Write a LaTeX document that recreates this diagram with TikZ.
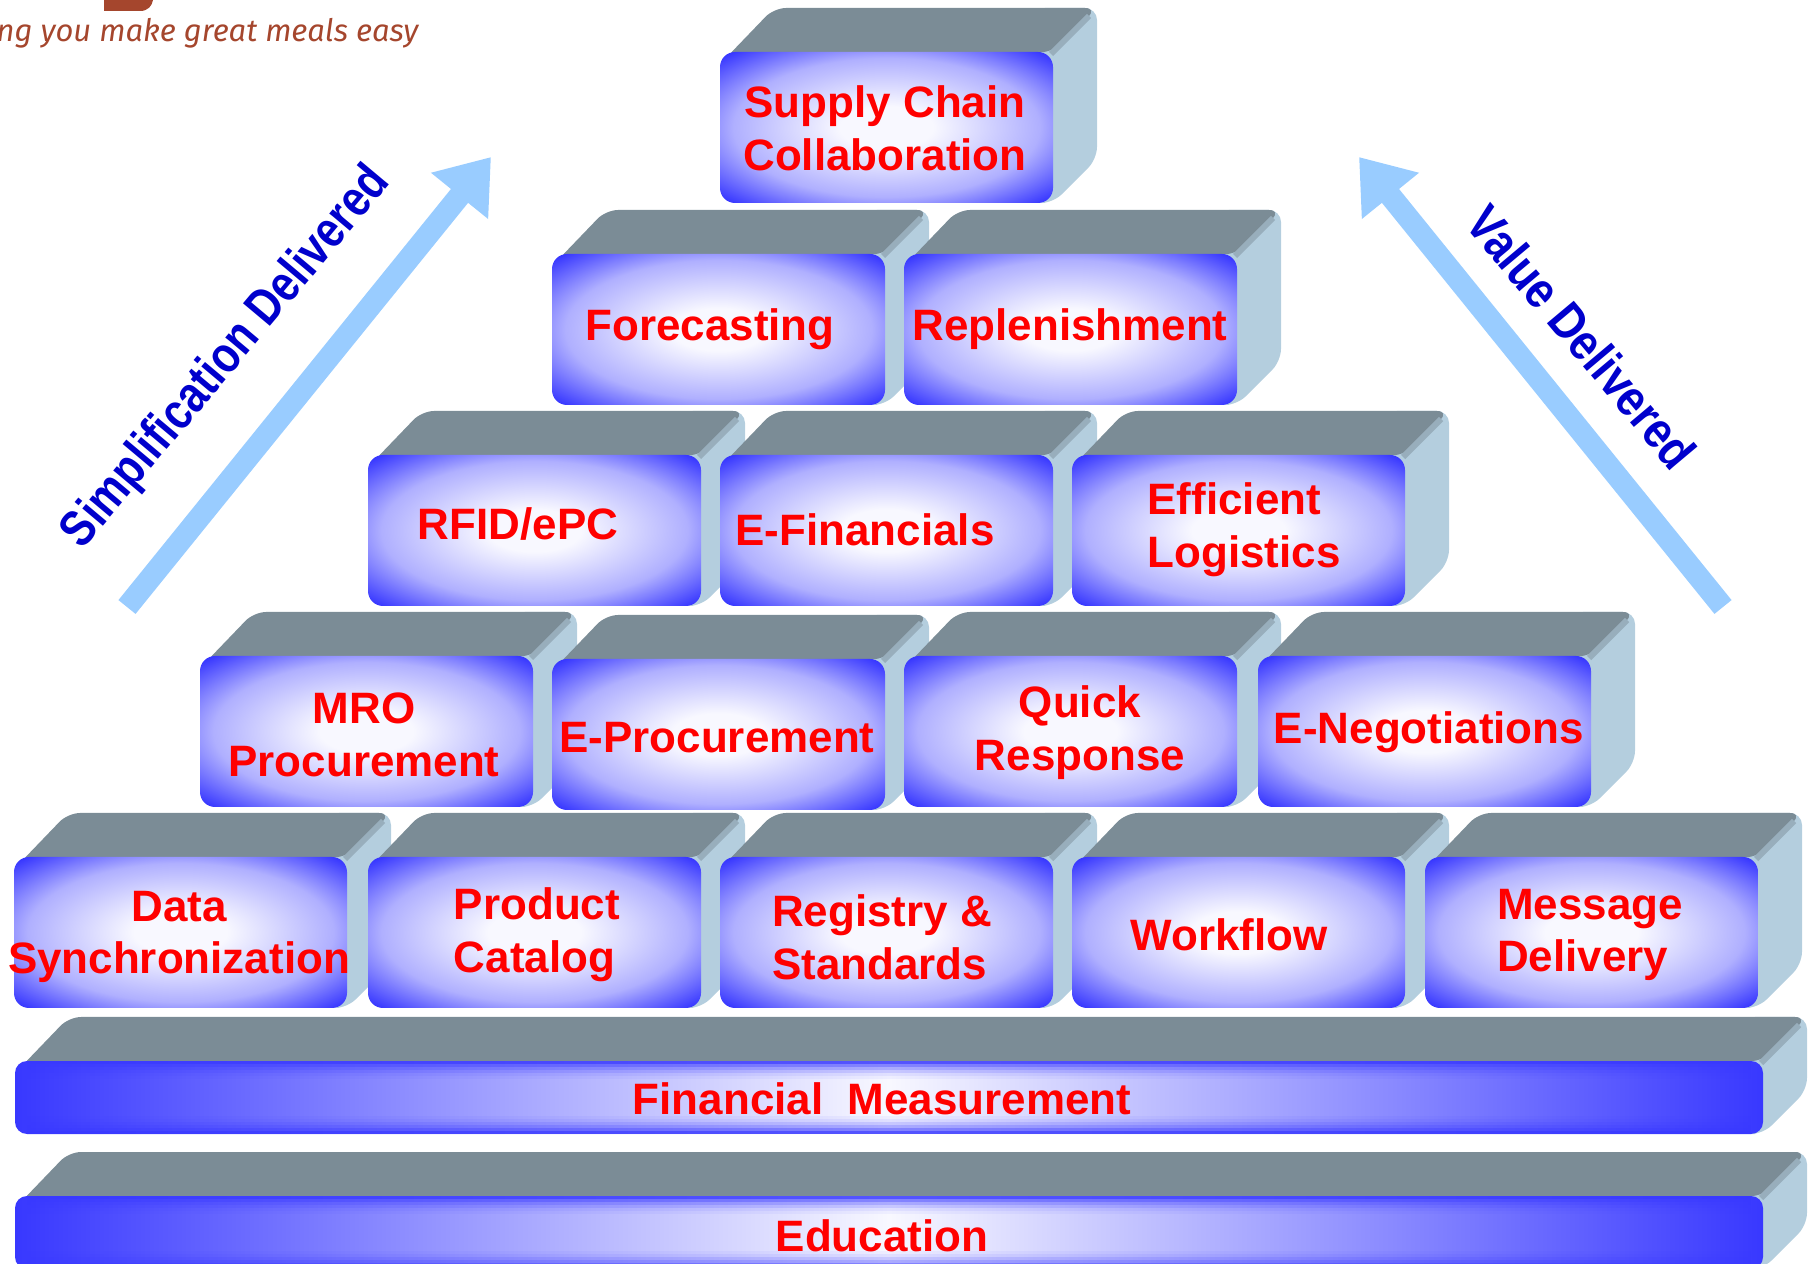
\documentclass[tikz,border=0pt]{standalone}
\usepackage{fontspec}
\setmainfont{Liberation Sans}
\newfontfamily\brandfont{Fira Sans}
\usetikzlibrary{arrows.meta}
\definecolor{faceblue}{RGB}{56,56,255}
\definecolor{facewhite}{RGB}{248,248,255}
\definecolor{topgray}{RGB}{123,140,150}
\definecolor{sideblue}{RGB}{180,206,222}
\definecolor{edgeblue}{RGB}{152,174,188}
\definecolor{arrowblue}{RGB}{153,204,255}
\definecolor{capblue}{RGB}{0,0,204}
\definecolor{brandbrown}{RGB}{165,70,45}
\pgfdeclareradialshading{boxglow}{\pgfpoint{0bp}{0bp}}{color(0bp)=(facewhite); color(7bp)=(facewhite); color(23bp)=(faceblue!40!white); color(34bp)=(faceblue); color(80bp)=(faceblue)}
% one block: x, y, width, height of its front face (pixels, y downwards)
\newcommand{\brick}[4]{%
  \fill[sideblue, rounded corners=0.12cm] ({#1+#3-20},{#2+#4}) -- ({#1+#3-20},{#2-44}) -- ({#1+#3+44},{#2-44}) -- ({#1+#3+44},{#2+#4-44}) -- ({#1+#3},{#2+#4}) -- cycle;
  \fill[topgray, rounded corners=0.12cm] ({#1+4},{#2+8}) -- ({#1+54},{#2-44}) -- ({#1+#3+44},{#2-44}) -- ({#1+#3},{#2}) -- cycle;
  \draw[edgeblue, line width=0.06cm] ({#1+#3-2},{#2+2}) -- ({#1+#3+36},{#2-36});
  \shade[shading=boxglow, rounded corners=0.15cm] (#1,#2) rectangle ({#1+#3},{#2+#4});
}
% one long slab under the blocks
\newcommand{\slab}[4]{%
  \fill[sideblue, rounded corners=0.12cm] ({#1+#3-20},{#2+#4}) -- ({#1+#3-20},{#2-44}) -- ({#1+#3+44},{#2-44}) -- ({#1+#3+44},{#2+#4-44}) -- ({#1+#3},{#2+#4}) -- cycle;
  \fill[topgray, rounded corners=0.12cm] ({#1+4},{#2+8}) -- ({#1+54},{#2-44}) -- ({#1+#3+44},{#2-44}) -- ({#1+#3},{#2}) -- cycle;
  \draw[edgeblue, line width=0.06cm] ({#1+#3-2},{#2+2}) -- ({#1+#3+36},{#2-36});
  \shade[left color=faceblue, right color=faceblue, middle color=facewhite, rounded corners=0.12cm] (#1,#2) rectangle ({#1+#3},{#2+#4});
  \foreach \k/\op in {0/0.85,3/0.6,6/0.4,9/0.25,12/0.12,15/0.05}
    {\fill[faceblue, opacity=\op] ({#1+12},{#2+\k}) rectangle ({#1+#3-12},{#2+\k+3});
     \fill[faceblue, opacity=\op] ({#1+12},{#2+#4-\k-3}) rectangle ({#1+#3-12},{#2+#4-\k});}
}
\begin{document}
\begin{tikzpicture}[x=0.01cm, y=-0.01cm,
    lbl/.style={text=red, font=\bfseries\fontsize{12.5}{15}\selectfont, align=center, inner sep=0pt},
    lbll/.style={lbl, align=left},
    captext/.style={text=capblue, font=\bfseries\fontsize{14.5}{16}\selectfont, inner sep=0pt},
    deliv/.style={arrowblue, line width=0.22cm, -{Triangle[length=0.5cm, width=0.7cm]}}]
    \useasboundingbox (0,0) rectangle (1814,1264);

    % tagline in the corner
    \fill[brandbrown] (104,0) -- (104,11) -- (140,11) .. controls (148,11) and (152,6) .. (153,0) -- cycle;
    \node[anchor=base west, inner sep=0pt, text=brandbrown, font=\brandfont\itshape\fontsize{8.8}{11}\selectfont] (tagline) at (-4,42) {ng you make great meals easy};

    % arrows
    \coordinate (simptail) at (127,607);
    \coordinate (simptip) at (491,157);
    \coordinate (valtail) at (1723,607);
    \coordinate (valtip) at (1359,157);
    \draw[deliv] (simptail) -- (simptip);
    \draw[deliv] (valtail) -- (valtip);
    \node[captext, rotate=50] (simp) at (227,358) {\scalebox{0.83}[1]{Simplification Delivered}};
    \node[captext, rotate=-50] (val) at (1582,337) {\scalebox{0.86}[1]{Value Delivered}};

    % row 1
    \brick{720}{52}{333}{151}
    \node[lbl] (scc) at (885,128) {Supply Chain\\Collaboration};
    % row 2
    \brick{552}{254}{333}{151}
    \brick{904}{254}{333}{151}
    \node[lbl] (fcst) at (710,329) {Forecasting};
    \node[lbl] (repl) at (1070,329) {Replenishment};
    % row 3
    \brick{368}{455}{333}{151}
    \brick{720}{455}{333}{151}
    \brick{1072}{455}{333}{151}
    \node[lbl] (rfid) at (518,524) {RFID/ePC};
    \node[lbl] (efin) at (865,530) {E-Financials};
    \node[lbll] (elog) at (1244,530) {Efficient\\Logistics};
    % row 4
    \brick{200}{656}{333}{151}
    \brick{552}{659}{333}{151}
    \brick{904}{656}{333}{151}
    \brick{1258}{656}{333}{151}
    \node[lbl] (mro) at (364,735) {MRO\\Procurement};
    \node[lbl] (eproc) at (717,738) {E-Procurement};
    \node[lbl] (quick) at (1080,733) {Quick\\Response};
    \node[lbl] (eneg) at (1429,732) {E-Negotiations};
    % row 5
    \brick{14}{857}{333}{151}
    \brick{368}{857}{333}{151}
    \brick{720}{857}{333}{151}
    \brick{1072}{857}{333}{151}
    \brick{1425}{857}{333}{151}
    \node[lbl] (dsync) at (179,937) {Data\\Synchronization};
    \node[lbll] (pcat) at (537,935) {Product\\Catalog};
    \node[lbll] (regs) at (882,937) {Registry \&\\Standards};
    \node[lbl] (wflow) at (1229,935) {Workflow};
    \node[lbll] (msgd) at (1590,935) {Message\\Delivery};

    % base slabs
    \slab{15}{1061}{1748}{73}
    \node[lbl] (finm) at (882,1099) {Financial\ \ Measurement};
    \slab{15}{1196}{1748}{73}
    \node[lbl] (edu) at (882,1236) {Education};
\end{tikzpicture}
\end{document}
